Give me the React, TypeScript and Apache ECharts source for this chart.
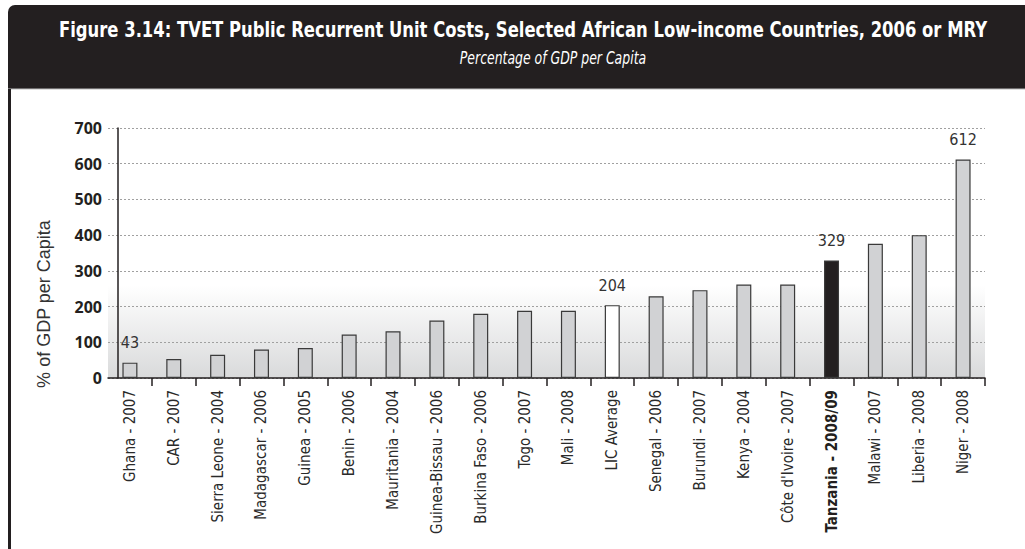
import React, { useEffect, useRef } from "react";
import * as echarts from "echarts";

const categories = [
  "Ghana - 2007",
  "CAR - 2007",
  "Sierra Leone - 2004",
  "Madagascar - 2006",
  "Guinea - 2005",
  "Benin - 2006",
  "Mauritania - 2004",
  "Guinea-Bissau - 2006",
  "Burkina Faso - 2006",
  "Togo - 2007",
  "Mali - 2008",
  "LIC Average",
  "Senegal - 2006",
  "Burundi - 2007",
  "Kenya - 2004",
  "Côte d'Ivoire - 2007",
  "Tanzania - 2008/09",
  "Malawi - 2007",
  "Liberia - 2008",
  "Niger - 2008",
];

const values = [43, 53, 65, 80, 84, 122, 131, 161, 180, 188, 188, 204, 229, 246, 262, 262, 329, 376, 400, 612];

const labelledCategories = ["Ghana - 2007", "LIC Average", "Tanzania - 2008/09", "Niger - 2008"];
const averageCategory = "LIC Average";
const highlightCategory = "Tanzania - 2008/09";

const yTicks = [0, 100, 200, 300, 400, 500, 600, 700];

const title = "Figure 3.14: TVET Public Recurrent Unit Costs, Selected African Low-income Countries, 2006 or MRY";
const subtitle = "Percentage of GDP per Capita";
const yAxisTitle = "% of GDP per Capita";

const NARROW = "'DejaVu Sans Condensed', 'Open Sans', sans-serif";

export default function App() {
  const ref = useRef<HTMLDivElement>(null);

  useEffect(() => {
    if (!ref.current) return;
    const chart = echarts.init(ref.current, undefined, { renderer: "svg" });

    const data = categories.map((c, i) => {
      let color = "#d1d2d4";
      if (c === averageCategory) color = "#ffffff";
      if (c === highlightCategory) color = "#231f20";
      return {
        value: values[i],
        itemStyle: { color, borderColor: "#3a3a3a", borderWidth: 1.2 },
        label: { show: labelledCategories.includes(c) },
      };
    });

    chart.setOption({
      animation: false,
      backgroundColor: "#ffffff",
      graphic: [
        {
          type: "rect",
          shape: { x: 8, y: 5, width: 1030, height: 84, r: [7, 0, 0, 0] },
          style: { fill: "#231f20" },
          z: 0,
        },
        {
          type: "line",
          shape: { x1: 8, y1: 89, x2: 1025, y2: 89 },
          style: { stroke: "#bdbdbd", lineWidth: 1 },
        },
        {
          type: "rect",
          shape: { x: 8, y: 89, width: 3, height: 470 },
          style: { fill: "#231f20" },
        },
        {
          type: "text",
          x: 523,
          y: 29,
          scaleX: 0.83,
          style: {
            text: title,
            fill: "#ffffff",
            font: `bold 22px ${NARROW}`,
            textAlign: "center",
            textVerticalAlign: "middle",
          },
        },
        {
          type: "text",
          x: 553,
          y: 58,
          scaleX: 0.77,
          style: {
            text: subtitle,
            fill: "#ffffff",
            font: `oblique 18px ${NARROW}`,
            textAlign: "center",
            textVerticalAlign: "middle",
          },
        },
        {
          type: "text",
          x: 44,
          y: 304,
          rotation: Math.PI / 2,
          style: {
            text: yAxisTitle,
            fill: "#333333",
            font: "18px 'Liberation Sans', Arial, sans-serif",
            textAlign: "center",
            textVerticalAlign: "middle",
          },
        },
      ],
      grid: {
        left: 108,
        right: 40,
        top: 128,
        bottom: 171,
        show: true,
        borderWidth: 0,
        backgroundColor: new echarts.graphic.LinearGradient(0, 0, 0, 1, [
          { offset: 0, color: "#ffffff" },
          { offset: 0.63, color: "#ffffff" },
          { offset: 1, color: "#d9dadb" },
        ]),
      },
      xAxis: {
        type: "category",
        data: categories,
        axisLine: { lineStyle: { color: "#231f20", width: 1.5 } },
        axisTick: {
          show: true,
          length: 8,
          lineStyle: { color: "#231f20", width: 1.5 },
          interval: (index: number) => index !== 0,
        },
        axisLabel: {
          rotate: 90,
          interval: 0,
          margin: 12,
          fontSize: 15,
          fontFamily: NARROW,
          color: "#2a2a2a",
          formatter: (v: string) => (v === highlightCategory ? `{b|${v}}` : v),
          rich: {
            b: { fontWeight: "bold", fontSize: 15, fontFamily: NARROW, color: "#231f20" },
          },
        },
      },
      yAxis: {
        type: "value",
        min: yTicks[0],
        max: yTicks[yTicks.length - 1],
        interval: 100,
        offset: -10,
        axisLine: { show: true, lineStyle: { color: "#231f20", width: 1.5 } },
        axisTick: { show: false },
        axisLabel: {
          margin: 16,
          fontSize: 16,
          fontWeight: "bold",
          fontFamily: "'Open Sans', sans-serif",
          color: "#231f20",
        },
        splitLine: { lineStyle: { color: "#a0a0a0", type: [2, 2], width: 1 } },
      },
      series: [
        {
          type: "bar",
          data,
          barWidth: 15,
          label: {
            position: "top",
            distance: 12,
            fontSize: 16,
            fontFamily: NARROW,
            color: "#333333",
          },
        },
      ],
    });

    return () => chart.dispose();
  }, []);

  return (
    <div
      ref={ref}
      style={{ position: "fixed", left: 0, top: 0, width: 1025, height: 549 }}
    />
  );
}
